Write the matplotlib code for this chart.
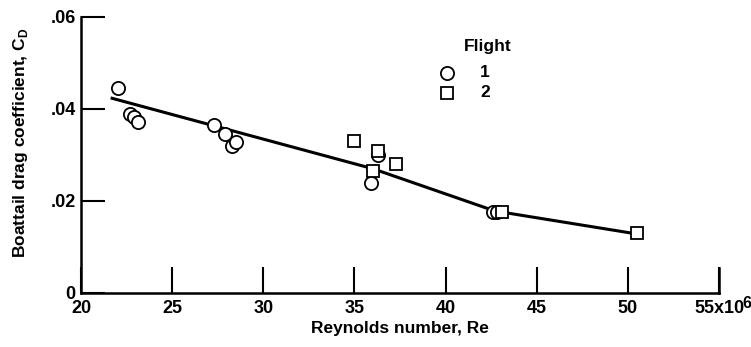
import matplotlib.pyplot as plt
from matplotlib.ticker import FixedLocator

# Flight 1 measurements (Re in millions, boattail drag coefficient)
re_flight1 = [22.0, 22.7, 22.9, 23.1, 27.3, 27.9, 28.3, 28.5, 35.9, 36.3, 42.6, 42.8]
cd_flight1 = [0.0446, 0.0389, 0.0383, 0.0372, 0.0364, 0.0345, 0.0320, 0.0327, 0.0238, 0.0300, 0.0176, 0.0176]

# Flight 2 measurements
re_flight2 = [35.0, 36.0, 36.3, 37.3, 43.1, 50.5]
cd_flight2 = [0.0330, 0.0266, 0.0308, 0.0281, 0.0176, 0.0130]

# faired curve through the data
re_fair = [21.7, 36.0, 42.7, 50.5]
cd_fair = [0.0423, 0.0270, 0.0178, 0.0128]

xticks = [20, 25, 30, 35, 40, 45, 50, 55]
xticklabels = ['20', '25', '30', '35', '40', '45', '50', '55x10']
yticks = [0, 0.02, 0.04, 0.06]
yticklabels = ['0', '.02', '.04', '.06']

plt.rcParams['font.family'] = ['Liberation Sans', 'DejaVu Sans']
plt.rcParams['font.weight'] = 'bold'
plt.rcParams['mathtext.fontset'] = 'custom'
plt.rcParams['mathtext.rm'] = 'Liberation Sans:bold'

fig = plt.figure(figsize=(7.51, 3.47), dpi=100)
ax = fig.add_axes([0.108, 0.156, 0.8494, 0.7954])

ax.plot(re_fair, cd_fair, color='black', lw=2.2, zorder=2)
ax.plot(re_flight1, cd_flight1, linestyle='none', marker='o', ms=9.5,
        mfc='white', mec='black', mew=1.3, zorder=3)
ax.plot(re_flight2, cd_flight2, linestyle='none', marker='s', ms=9.0,
        mfc='white', mec='black', mew=1.3, zorder=3)

ax.set_xlim(20, 55)
ax.set_ylim(0, 0.06)
ax.xaxis.set_major_locator(FixedLocator(xticks))
ax.yaxis.set_major_locator(FixedLocator(yticks))
ax.set_xticklabels(xticklabels, fontsize=13, fontweight='bold')
ax.set_yticklabels(yticklabels, fontsize=13, fontweight='bold')
ax.tick_params(axis='x', direction='in', length=19, width=1.5, pad=5)
ax.tick_params(axis='y', direction='in', length=17, width=1.5, pad=4)

for side in ['top', 'right']:
    ax.spines[side].set_visible(False)
for side in ['left', 'bottom']:
    ax.spines[side].set_linewidth(1.8)

# right end of the x axis carries a tick mark at 55
ax.plot([55, 55], [0, 0.0055], color='black', lw=1.8, clip_on=False)

# exponent on the last tick label
ax.annotate('6', xy=(55, 0), xycoords='data', xytext=(17, -13),
            textcoords='offset points', fontsize=11.5, fontweight='bold',
            ha='left', va='bottom', annotation_clip=False)

ax.set_xlabel('Reynolds number, Re', fontsize=12.5, fontweight='bold', labelpad=3)
ax.set_ylabel('Boattail drag coefficient, C$_\\mathregular{D}$', fontsize=12.5,
              fontweight='bold')
ax.yaxis.set_label_coords(-0.08, 0.545)

# key
ax.text(41.0, 0.0535, 'Flight', fontsize=12.5, fontweight='bold', va='center')
ax.plot([40.1], [0.0478], linestyle='none', marker='o', ms=9.5,
        mfc='white', mec='black', mew=1.3)
ax.plot([40.1], [0.0435], linestyle='none', marker='s', ms=9.0,
        mfc='white', mec='black', mew=1.3)
ax.text(41.9, 0.0478, '1', fontsize=12.5, fontweight='bold', va='center')
ax.text(41.9, 0.0435, '2', fontsize=12.5, fontweight='bold', va='center')

fig.savefig('out.png', dpi=100, facecolor='white')
